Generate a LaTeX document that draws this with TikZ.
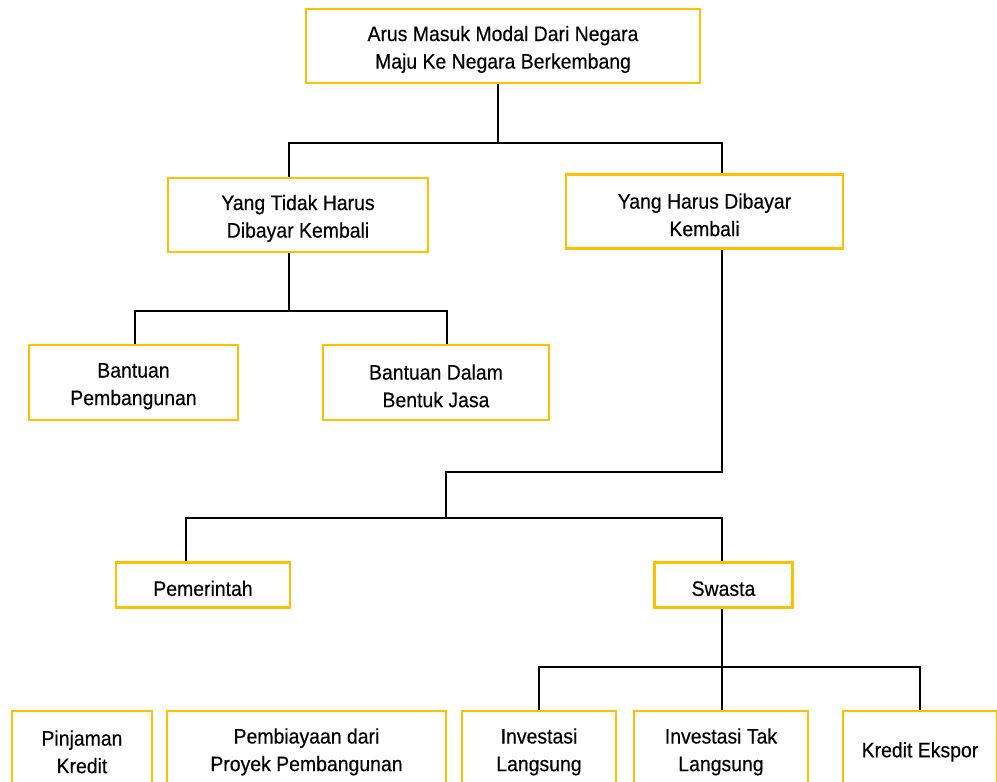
\documentclass[tikz,border=0pt]{standalone}
\usepackage{fontspec}
\setmainfont{Liberation Sans}[FakeStretch=0.925,FakeBold=0.3]
\definecolor{boxyellow}{HTML}{FFC000}
\newcommand\firstlinestrut{\rule{0pt}{22pt}}
\begin{document}
\begin{tikzpicture}[x=1pt,y=-1pt,
  box/.style={draw=boxyellow, line width=2.6pt, fill=white, align=center, inner sep=0pt,
    font=\fontsize{21}{27.6}\selectfont, text=black},
  conn/.style={draw=black, line width=2.2pt}]
\useasboundingbox (0,0) rectangle (997,782);
\clip (0,0) rectangle (997,782);
% nodes
\node[box, minimum width=394pt, minimum height=74pt] (top) at (503,46) {\firstlinestrut Arus Masuk Modal Dari Negara\\Maju Ke Negara Berkembang};
\node[box, minimum width=260pt, minimum height=74pt] (L) at (298,215) {\firstlinestrut Yang Tidak Harus\\Dibayar Kembali};
\node[box, minimum width=277pt, minimum height=74pt] (R) at (704.5,211.5) {\firstlinestrut Yang Harus Dibayar\\Kembali};
\node[box, minimum width=209pt, minimum height=75pt] (BP) at (133.5,382.5) {\firstlinestrut Bantuan\\Pembangunan};
\node[box, minimum width=226pt, minimum height=75pt] (BD) at (436,382.5) {\firstlinestrut Bantuan Dalam\\Bentuk Jasa};
\node[box, minimum width=174pt, minimum height=45pt] (Pem) at (203,585) {\firstlinestrut Pemerintah};
\node[box, minimum width=138pt, minimum height=45pt] (Sw) at (723.5,585) {\firstlinestrut Swasta};
\node[box, minimum width=140pt, minimum height=75pt] (PK) at (82,748.5) {\firstlinestrut Pinjaman\\Kredit};
\node[box, minimum width=279pt, minimum height=75pt] (PP) at (306.5,748.5) {\firstlinestrut Pembiayaan dari\\Proyek Pembangunan};
\node[box, minimum width=154pt, minimum height=75pt] (IL) at (539,748.5) {\firstlinestrut Investasi\\Langsung};
\node[box, minimum width=174pt, minimum height=75pt] (IT) at (721,748.5) {\firstlinestrut Investasi Tak\\Langsung};
\node[box, minimum width=154pt, minimum height=75pt] (KE) at (920,748.5) {\firstlinestrut Kredit Ekspor};
% junction coordinates
\coordinate (j1) at (498,143);
\coordinate (j1l) at (289,143);
\coordinate (j1r) at (722,143);
\coordinate (j2) at (289,311);
\coordinate (j2l) at (135,311);
\coordinate (j2r) at (447,311);
\coordinate (j3) at (722,472);
\coordinate (j3l) at (446,472);
\coordinate (j4) at (446,518);
\coordinate (j4l) at (186,518);
\coordinate (j4r) at (722,518);
\coordinate (j5) at (722,667);
\coordinate (j5l) at (539,667);
\coordinate (j5r) at (920,667);
% connectors
\draw[conn] (top.south -| j1) -- (j1);
\draw[conn] (L.north -| j1l) -- (j1l) -- (j1r) -- (R.north -| j1r);
\draw[conn] (L.south -| j2) -- (j2);
\draw[conn] (BP.north -| j2l) -- (j2l) -- (j2r) -- (BD.north -| j2r);
\draw[conn] (R.south -| j3) -- (j3) -- (j3l) -- (j4);
\draw[conn] (Pem.north -| j4l) -- (j4l) -- (j4r) -- (Sw.north -| j4r);
\draw[conn] (Sw.south -| j5) -- (j5);
\draw[conn] (IL.north -| j5l) -- (j5l) -- (j5r) -- (KE.north -| j5r);
\draw[conn] (IT.north -| j5) -- (j5);
\end{tikzpicture}
\end{document}
